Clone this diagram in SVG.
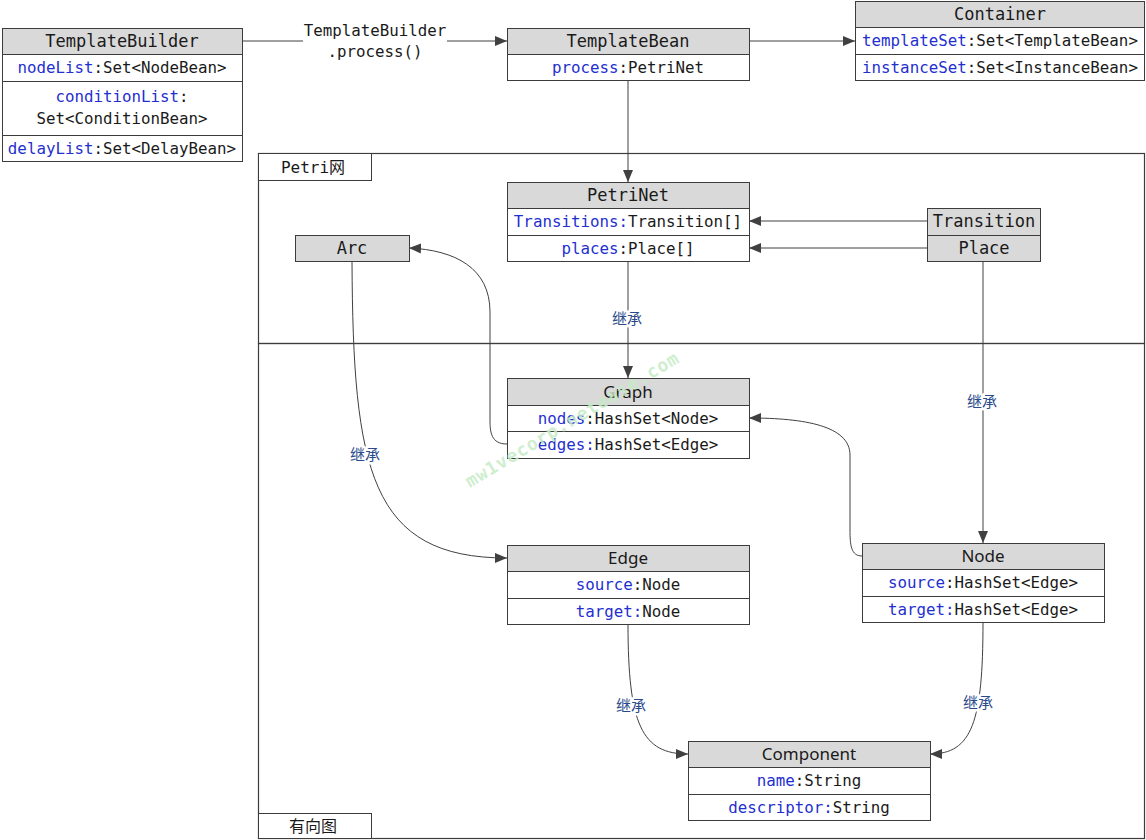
<svg xmlns="http://www.w3.org/2000/svg" width="1146" height="840" viewBox="0 0 1146 840">
<style>
.hd{fill:#d9d9d9;stroke:#3c3c3c;stroke-width:1}
.rw{fill:#fff;stroke:#3c3c3c;stroke-width:1}
.frame{fill:none;stroke:#3c3c3c;stroke-width:1.2}
.tab{fill:#fff;stroke:#3c3c3c;stroke-width:1}
.m{font-family:"DejaVu Sans Mono","Liberation Mono",monospace;font-size:15.8px;fill:#1a1a1a;text-anchor:middle}
.mh{font-family:"DejaVu Sans Mono","Liberation Mono",monospace;font-size:17px;fill:#1a1a1a;text-anchor:middle}
.sh{font-family:"Noto Sans","Open Sans",sans-serif;font-size:17px;fill:#1a1a1a;text-anchor:middle}
.k{fill:#1f2fd0}
.lbl{font-family:"Noto Sans CJK SC",sans-serif;font-size:15px;fill:#2b4a8b;text-anchor:middle;stroke:#fff;stroke-width:5;paint-order:stroke;stroke-linejoin:round}
.tl{font-family:"DejaVu Sans Mono","Noto Sans CJK SC",monospace;font-size:16px;fill:#1a1a1a;text-anchor:middle}
.c{fill:none;stroke:#404040;stroke-width:1;marker-end:url(#ah)}
</style>
<defs>
<marker id="ah" viewBox="0 0 12 10" refX="12" refY="5" markerWidth="12" markerHeight="10" markerUnits="userSpaceOnUse" orient="auto">
<path d="M0,0 L12,5 L0,10 Z" fill="#404040"/>
</marker>
</defs>
<rect width="1146" height="840" fill="#fff"/>

<!-- frames -->
<g id="frame-petri">
<rect class="frame" x="258.5" y="153.5" width="886" height="190"/>
<rect class="tab" x="258.5" y="153.5" width="113" height="27"/>
<text class="tl" x="313" y="173">Petri网</text>
</g>
<g id="frame-graph">
<rect class="frame" x="258.5" y="343.5" width="886" height="495"/>
<rect class="tab" x="258.5" y="813.5" width="113" height="25"/>
<text class="tl" x="313" y="832" font-family="'Noto Sans CJK SC',sans-serif" font-size="17">有向图</text>
</g>

<!-- connectors -->
<g id="connectors">
<path class="c" d="M242,41 L507,41"/>
<path class="c" d="M749,41 L855,41"/>
<path class="c" d="M628,80 L628,182"/>
<path class="c" d="M927,221 L749,221"/>
<path class="c" d="M927,248 L749,248"/>
<path class="c" d="M628,261 L628,378"/>
<path class="c" d="M507,444 C491,444 490,432 490,420 L490,312 C490,268 455,250 409,248"/>
<path class="c" d="M352,261 C353,470 370,558 507,558"/>
<path class="c" d="M862,556 C851,556 850,545 850,530 L850,455 C850,426 805,418 749,418"/>
<path class="c" d="M983,261 L983,543"/>
<path class="c" d="M628,624 C628,725 642,754 688,754"/>
<path class="c" d="M983,622 C983,722 972,754 930,754"/>
<rect x="303" y="20" width="144" height="42" fill="#fff"/>
<text class="m" x="375" y="36">TemplateBuilder</text>
<text class="m" x="375" y="57">.process()</text>
<text class="lbl" x="627" y="324">继承</text>
<text class="lbl" x="365" y="460">继承</text>
<text class="lbl" x="982" y="407">继承</text>
<text class="lbl" x="631" y="711">继承</text>
<text class="lbl" x="978" y="708">继承</text>
</g>

<g id="TemplateBuilder">
<rect class="hd" x="2.5" y="28.5" width="240" height="26"/>
<rect class="rw" x="2.5" y="54.5" width="240" height="27"/>
<rect class="rw" x="2.5" y="81.5" width="240" height="54"/>
<rect class="rw" x="2.5" y="135.5" width="240" height="26"/>
<text class="mh" x="122" y="47">TemplateBuilder</text>
<text class="m" x="122" y="73"><tspan class="k">nodeList</tspan>:Set&lt;NodeBean&gt;</text>
<text class="m" x="122" y="102"><tspan class="k">conditionList</tspan>:</text>
<text class="m" x="122" y="124">Set&lt;ConditionBean&gt;</text>
<text class="m" x="122" y="154"><tspan class="k">delayList</tspan>:Set&lt;DelayBean&gt;</text>
</g>

<g id="TemplateBean">
<rect class="hd" x="507.5" y="28.5" width="242" height="26"/>
<rect class="rw" x="507.5" y="54.5" width="242" height="26"/>
<text class="mh" x="628" y="47">TemplateBean</text>
<text class="m" x="628" y="73"><tspan class="k">process</tspan>:PetriNet</text>
</g>

<g id="Container">
<rect class="hd" x="855.5" y="1.5" width="289" height="26"/>
<rect class="rw" x="855.5" y="27.5" width="289" height="27"/>
<rect class="rw" x="855.5" y="54.5" width="289" height="26"/>
<text class="mh" x="1000" y="20">Container</text>
<text class="m" x="1000" y="46"><tspan class="k">templateSet</tspan>:Set&lt;TemplateBean&gt;</text>
<text class="m" x="1000" y="73"><tspan class="k">instanceSet</tspan>:Set&lt;InstanceBean&gt;</text>
</g>

<g id="PetriNet">
<rect class="hd" x="507.5" y="182.5" width="242" height="26"/>
<rect class="rw" x="507.5" y="208.5" width="242" height="27"/>
<rect class="rw" x="507.5" y="235.5" width="242" height="26"/>
<text class="mh" x="628" y="201">PetriNet</text>
<text class="m" x="628" y="227"><tspan class="k">Transitions:</tspan>Transition[]</text>
<text class="m" x="628" y="254"><tspan class="k">places</tspan>:Place[]</text>
</g>

<g id="Transition">
<rect class="hd" x="927.5" y="208.5" width="113" height="27"/>
<text class="mh" x="984" y="227">Transition</text>
</g>
<g id="Place">
<rect class="hd" x="927.5" y="235.5" width="113" height="26"/>
<text class="mh" x="984" y="254">Place</text>
</g>
<g id="Arc">
<rect class="hd" x="295.5" y="235.5" width="114" height="26"/>
<text class="mh" x="352" y="254">Arc</text>
</g>

<g id="Graph">
<rect class="hd" x="507.5" y="378.5" width="242" height="27"/>
<rect class="rw" x="507.5" y="405.5" width="242" height="26"/>
<rect class="rw" x="507.5" y="431.5" width="242" height="27"/>
<text class="sh" x="628" y="398">Graph</text>
<text class="m" x="628" y="424"><tspan class="k">nodes</tspan>:HashSet&lt;Node&gt;</text>
<text class="m" x="628" y="450"><tspan class="k">edges:</tspan>HashSet&lt;Edge&gt;</text>
</g>

<g id="Edge">
<rect class="hd" x="507.5" y="545.5" width="242" height="26"/>
<rect class="rw" x="507.5" y="571.5" width="242" height="27"/>
<rect class="rw" x="507.5" y="598.5" width="242" height="26"/>
<text class="sh" x="628" y="564">Edge</text>
<text class="m" x="628" y="590"><tspan class="k">source</tspan>:Node</text>
<text class="m" x="628" y="617"><tspan class="k">target:</tspan>Node</text>
</g>

<g id="Node">
<rect class="hd" x="862.5" y="543.5" width="242" height="26"/>
<rect class="rw" x="862.5" y="569.5" width="242" height="27"/>
<rect class="rw" x="862.5" y="596.5" width="242" height="26"/>
<text class="sh" x="983" y="562">Node</text>
<text class="m" x="983" y="588"><tspan class="k">source</tspan>:HashSet&lt;Edge&gt;</text>
<text class="m" x="983" y="615"><tspan class="k">target:</tspan>HashSet&lt;Edge&gt;</text>
</g>

<g id="Component">
<rect class="hd" x="688.5" y="741.5" width="242" height="26"/>
<rect class="rw" x="688.5" y="767.5" width="242" height="27"/>
<rect class="rw" x="688.5" y="794.5" width="242" height="26"/>
<text class="sh" x="809" y="760">Component</text>
<text class="m" x="809" y="786"><tspan class="k">name</tspan>:String</text>
<text class="m" x="809" y="813"><tspan class="k">descriptor:</tspan>String</text>
</g>

<!-- watermark -->
<text x="575" y="425" transform="rotate(-31 575 425)" text-anchor="middle" font-family="'DejaVu Sans Mono',monospace" font-weight="bold" font-size="18" fill="#c6ebc6" fill-opacity="0.85" textLength="245">mw1vecorp.netease.com</text>
</svg>
